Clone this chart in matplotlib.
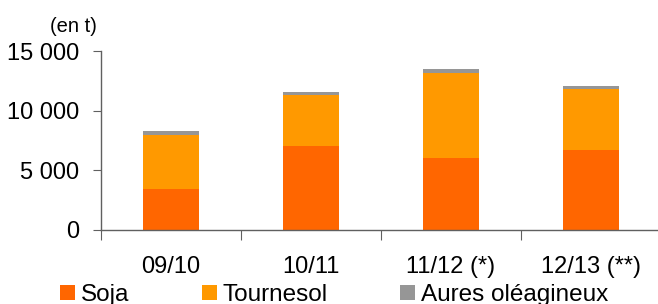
import matplotlib.pyplot as plt
import numpy as np

plt.rcParams['font.family'] = ['Liberation Sans', 'DejaVu Sans']

# campagnes et tonnages (en t)
campagnes = ["09/10", "10/11", "11/12 (*)", "12/13 (**)"]
soja = [3400, 7000, 6000, 6700]
tournesol = [4600, 4300, 7200, 5100]
autres = [300, 300, 330, 300]
noms = ["Soja", "Tournesol", "Aures oléagineux"]
couleurs = ["#FF6600", "#FF9900", "#969696"]

fig = plt.figure(figsize=(6.58, 3.04), dpi=100)
ax = fig.add_axes([101 / 658, 74.5 / 304, 560 / 658, 178 / 304])

x = np.arange(len(campagnes))
w = 0.405
bas = np.zeros(len(x))
for serie, nom, c in zip([soja, tournesol, autres], noms, couleurs):
    ax.bar(x, serie, w, bottom=bas, color=c, label=nom, linewidth=0)
    bas += np.array(serie)

ax.set_xlim(-0.5, len(x) - 0.5)
ax.set_ylim(0, 15000)
ax.set_yticks([0, 5000, 10000, 15000])
ax.set_yticklabels(["0", "5 000", "10 000", "15 000"], fontsize=17)

# graduations entre catégories, étiquettes au centre
ax.set_xticks(np.arange(-0.5, len(x)), minor=False)
ax.set_xticklabels([])
ax.set_xticks(x, minor=True)
ax.set_xticklabels(campagnes, minor=True, fontsize=17)
ax.tick_params(axis='x', which='minor', length=0, pad=19)
ax.tick_params(axis='x', which='major', direction='out', length=7, color='#606060')
ax.tick_params(axis='y', direction='out', length=6, pad=10, color='#606060')

for s in ['top', 'right']:
    ax.spines[s].set_visible(False)
for s in ['left', 'bottom']:
    ax.spines[s].set_color('#606060')
    ax.spines[s].set_linewidth(1)

fig.text(97 / 658, 1 - 26 / 304, "(en t)", ha='right', va='center', fontsize=14.5)

fig.legend(loc='center left', bbox_to_anchor=(60 / 658, 1 - 295 / 304), ncol=3,
           frameon=False, fontsize=17.5, handlelength=0.62, handleheight=0.62,
           handletextpad=0.22, columnspacing=3.0, borderpad=0, borderaxespad=0)

fig.savefig("out.png", dpi=100)
